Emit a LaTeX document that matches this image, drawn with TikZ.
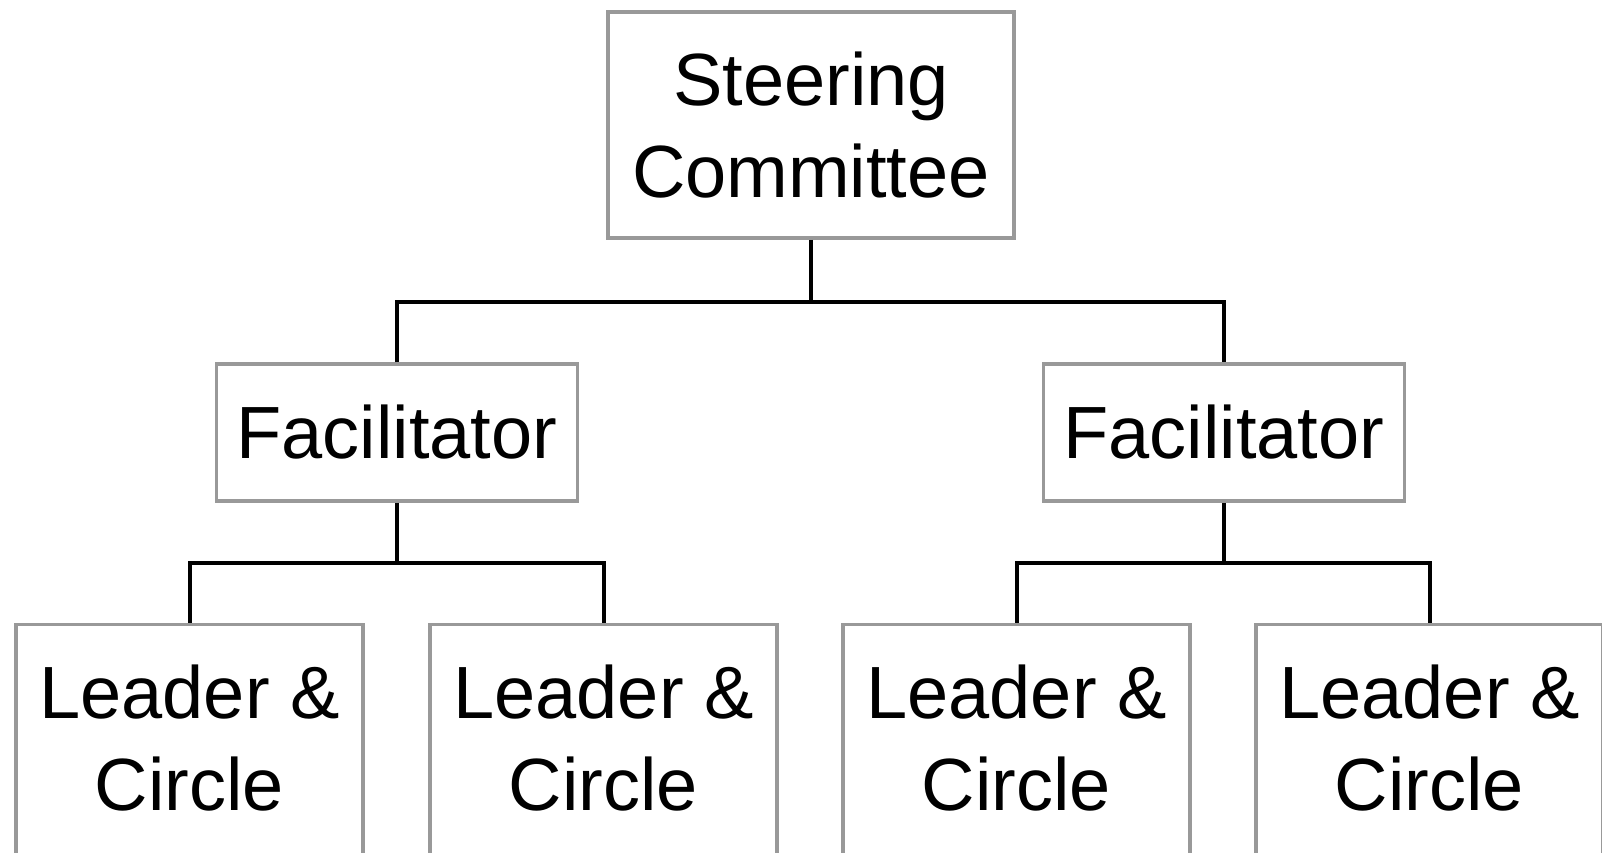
\documentclass[tikz,border=0pt]{standalone}
\usepackage{fontspec}
\setmainfont{Liberation Sans}
\begin{document}
\begin{tikzpicture}[x=1pt,y=1pt,
  box/.style={draw=boxgray, line width=3.5pt, fill=white, inner sep=0pt, align=center,
    font=\fontsize{74}{92}\selectfont},
  leaf/.style={box, minimum width=347, minimum height=236, text depth=9pt},
  conn/.style={draw=black, line width=4pt}]
\definecolor{boxgray}{HTML}{999999}
\clip (0,0) rectangle (1602,-852);
\fill[white] (0,0) rectangle (1602,-852);
\node[box, minimum width=406, minimum height=226] (steer) at (811,-125) {Steering\\Committee};
\node[box, minimum width=361, minimum height=137] (fac1) at (397,-432.5) {Facilitator};
\node[box, minimum width=361, minimum height=137] (fac2) at (1224,-432.5) {Facilitator};
\node[leaf] (l1) at (189.5,-742.5) {Leader \&\\Circle};
\node[leaf] (l2) at (603.5,-742.5) {Leader \&\\Circle};
\node[leaf] (l3) at (1016.5,-742.5) {Leader \&\\Circle};
\node[leaf] (l4) at (1429.5,-742.5) {Leader \&\\Circle};
\coordinate (j0) at (811,-302);
\coordinate (j1) at (397,-563);
\coordinate (j2) at (1224,-563);
\draw[conn] (steer.south) -- (j0);
\draw[conn] (fac1.north) |- (j0) -| (fac2.north);
\draw[conn] (fac1.south) -- (j1);
\draw[conn] (l1.north) |- (j1) -| (l2.north);
\draw[conn] (fac2.south) -- (j2);
\draw[conn] (l3.north) |- (j2) -| (l4.north);
\end{tikzpicture}
\end{document}
